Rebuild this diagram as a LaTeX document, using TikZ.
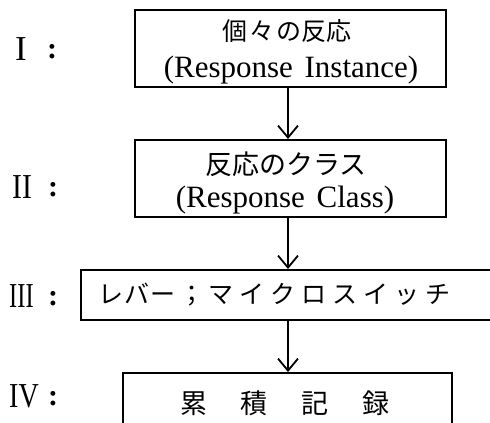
\documentclass[tikz,border=0pt]{standalone}
\usepackage{fontspec}
\usepackage{graphicx}
\setmainfont{Liberation Serif}
\newfontfamily\cjk{Noto Sans CJK JP}
\usetikzlibrary{arrows.meta}
\tikzset{
  boxstyle/.style={draw, line width=1.8pt},
  flowarrow/.style={line width=1.8pt, -{Straight Barb[length=12pt,width=20pt,line width=1.8pt]}},
  numstyle/.style={inner sep=0pt, anchor=base west, font=\fontsize{35}{35}\selectfont},
  colonstyle/.style={inner sep=0pt, anchor=base, font=\fontsize{30}{30}\selectfont\bfseries},
  jtext/.style={inner sep=0pt, font=\cjk\fontsize{25}{25}\selectfont},
  etext/.style={inner sep=0pt, font=\fontsize{31}{31}\selectfont},
}
\begin{document}
\begin{tikzpicture}[x=1pt,y=-1pt]
\clip (0,0) rectangle (490,423);
\fill[white] (0,0) rectangle (490,423);
% boxes
\draw[boxstyle] (135,10) rectangle (446,87);
\draw[boxstyle] (135,140) rectangle (446,217);
\draw[boxstyle] (81,270) rectangle (495,320);
\draw[boxstyle] (123,373) rectangle (452,430);
% anchor coordinates for boxes
\coordinate (b1s) at (288,87);
\coordinate (b2n) at (288,139);
\coordinate (b2s) at (288,217);
\coordinate (b3n) at (288,269);
\coordinate (b3s) at (288,320);
\coordinate (b4n) at (288,372);
% arrows
\draw[flowarrow] (b1s) -- (b2n);
\draw[flowarrow] (b2s) -- (b3n);
\draw[flowarrow] (b3s) -- (b4n);
% texts
\node[jtext] (t1a) at (287,31) {個\hspace{2pt}々\hspace{2pt}の反応};
\node[etext, anchor=base] (t1b) at (291,77) {(Response\hspace{4pt} Instance)};
\node[jtext, font=\cjk\fontsize{27}{27}\selectfont] (t2a) at (286,164) {反応のクラス};
\node[etext, anchor=base] (t2b) at (285,207) {(Response\hspace{4pt} Class)};
\node[jtext] (t3) at (274,295) {レ\hspace{1pt}バ\hspace{1pt}ー\hspace{4pt}；\hspace{4pt}マ\hspace{6pt}イ\hspace{6pt}ク\hspace{6pt}ロ\hspace{6pt}ス\hspace{6pt}イ\hspace{6pt}ッ\hspace{6pt}チ};
\node[jtext, font=\cjk\fontsize{27}{27}\selectfont] (t4) at (285,403) {累\hspace{34pt}積\hspace{34pt}記\hspace{34pt}録};
% labels
\node[numstyle] (n1) at (15,60) {I};
\node[colonstyle] (c1) at (52,58) {:};
\node[numstyle] (n2) at (12,198) {\scalebox{0.85}[1]{II}};
\node[colonstyle] (c2) at (53,196) {:};
\node[numstyle] (n3) at (9,307) {\scalebox{0.7}[1]{III}};
\node[colonstyle] (c3) at (53,305) {:};
\node[numstyle] (n4) at (9,407) {\scalebox{0.8}[1]{IV}};
\node[colonstyle] (c4) at (53,405) {:};
\end{tikzpicture}
\end{document}
